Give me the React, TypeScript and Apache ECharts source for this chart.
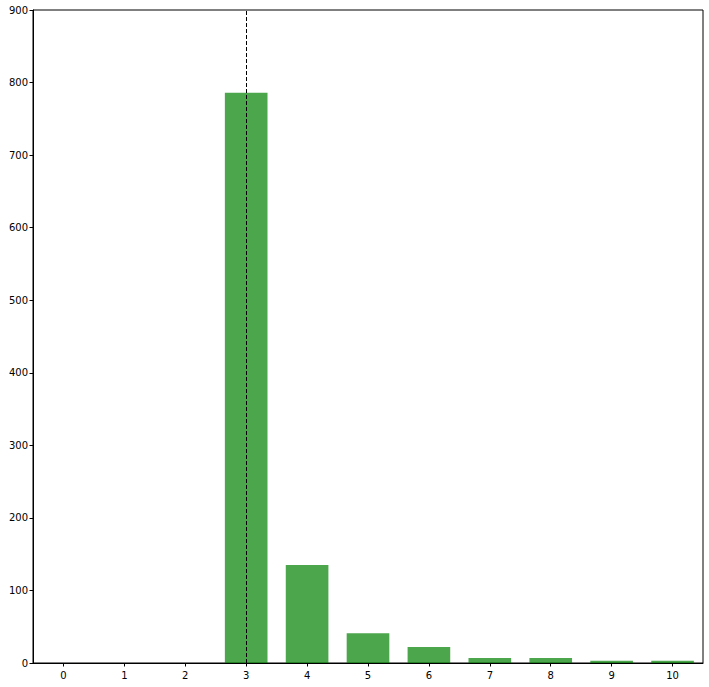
import React, { useEffect, useRef } from "react";
import * as echarts from "echarts";

const categories = ["0", "1", "2", "3", "4", "5", "6", "7", "8", "9", "10"];
const counts = [0, 0, 0, 786, 135, 41, 22, 7, 7, 3, 3];
const markerCategory = "3";
const yTicks = { min: 0, max: 900, interval: 100 };

export default function App() {
  const ref = useRef<HTMLDivElement>(null);
  useEffect(() => {
    if (!ref.current) return;
    const chart = echarts.init(ref.current, undefined, { renderer: "svg" });
    const font = { fontFamily: "DejaVu Sans", fontSize: 10, color: "#000" };
    chart.setOption({
      animation: false,
      backgroundColor: "#fff",
      grid: {
        left: 33,
        top: 10,
        right: 6,
        bottom: 24,
        show: true,
        borderColor: "#000",
        borderWidth: 1,
        backgroundColor: "transparent",
      },
      xAxis: {
        type: "category",
        data: categories,
        boundaryGap: true,
        axisLine: { show: true, lineStyle: { color: "#000", width: 1 } },
        axisTick: { show: true, alignWithLabel: true, length: 3.5, lineStyle: { color: "#000" } },
        axisLabel: { ...font, margin: 7, interval: 0 },
        splitLine: { show: false },
      },
      yAxis: {
        type: "value",
        min: yTicks.min,
        max: yTicks.max,
        interval: yTicks.interval,
        axisLine: { show: true, lineStyle: { color: "#000", width: 1 } },
        axisTick: { show: true, length: 3.5, lineStyle: { color: "#000" } },
        axisLabel: { ...font, margin: 5 },
        splitLine: { show: false },
      },
      series: [
        {
          type: "bar",
          data: counts,
          barWidth: "70%",
          itemStyle: { color: "rgba(0,128,0,0.7)" },
          markLine: {
            silent: true,
            symbol: "none",
            label: { show: false },
            lineStyle: { color: "#000", type: [4, 2], width: 1 },
            data: [{ xAxis: markerCategory }],
          },
        },
      ],
    });
    return () => chart.dispose();
  }, []);
  return (
    <div
      ref={ref}
      style={{ position: "fixed", left: 0, top: 0, width: 709, height: 687, background: "#fff" }}
    />
  );
}
